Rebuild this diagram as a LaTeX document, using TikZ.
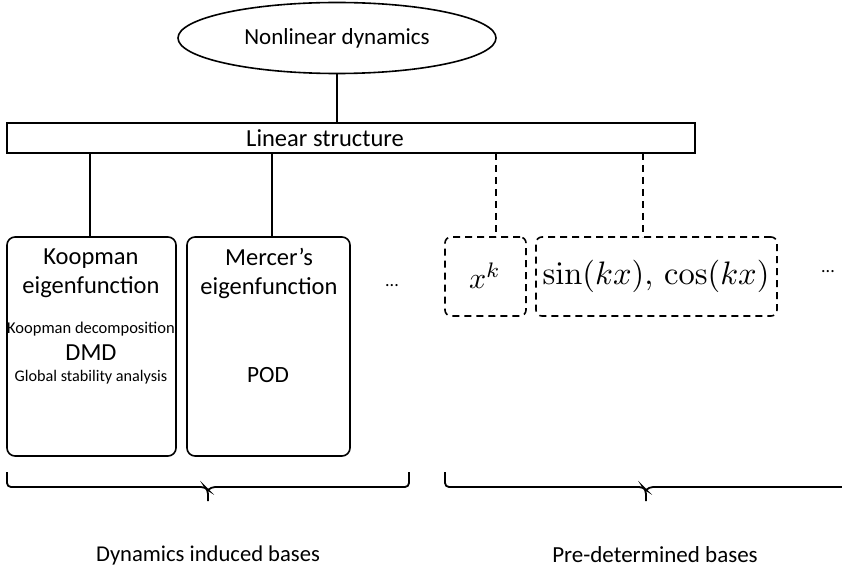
\documentclass[tikz,border=0pt]{standalone}
\usepackage[no-math]{fontspec}
\setmainfont{Carlito}
\usetikzlibrary{shapes.geometric}
\begin{document}
\begin{tikzpicture}[x=1pt,y=-1pt,
  every node/.style={inner sep=0pt,outer sep=0pt},
  ln/.style={line width=1.6pt},
  dsh/.style={line width=1.6pt,dash pattern=on 7pt off 5pt},
  rbox/.style={draw,line width=1.6pt,rounded corners=8pt,minimum width=#1,minimum height=219pt},
  dbox/.style={draw,line width=1.6pt,dash pattern=on 7pt off 5pt,rounded corners=6pt,minimum width=#1,minimum height=79pt},
  brc/.style={line width=1.8pt,rounded corners=4pt}]
\useasboundingbox (0,0) rectangle (842,569);
\node[draw,ellipse,line width=1.6pt,minimum width=318pt,minimum height=71pt,font=\fontsize{23}{27}\selectfont] (nd) at (337,38) {Nonlinear dynamics};
\node[draw,line width=1.6pt,minimum width=688pt,minimum height=30pt,anchor=north west] (ls) at (7,123) {};
\node[font=\fontsize{24.5}{28}\selectfont] at (325,138) {Linear structure};
\node[rbox=169pt,anchor=north west] (kb) at (7,237) {};
\node[rbox=163pt,anchor=north west] (mb) at (187,237) {};
\node[dbox=81pt,anchor=north west] (xb) at (445,237) {};
\node[dbox=241pt,anchor=north west] (sb) at (536,237) {};
\coordinate (c1) at (90,153);
\coordinate (c2) at (272,153);
\coordinate (c3) at (496,153);
\coordinate (c4) at (643,153);
\draw[ln] (nd.south) -- (ls.north -| nd.south);
\draw[ln] (c1) -- (c1 |- kb.north);
\draw[ln] (c2) -- (c2 |- mb.north);
\draw[dsh] (c3) -- (c3 |- xb.north);
\draw[dsh] (c4) -- (c4 |- sb.north);
% Koopman text
\node[font=\fontsize{24.5}{29}\selectfont,align=center] (kt) at (91,273) {Koopman\\eigenfunction};
\node[font=\fontsize{16.5}{18}\selectfont] (kd) at (91,329) {Koopman decomposition};
\node[font=\fontsize{24.5}{28}\selectfont] (dmd) at (91,353) {DMD};
\node[font=\fontsize{16.2}{18}\selectfont] (gs) at (91,377) {Global stability analysis};
% Mercer text
\node[font=\fontsize{24.5}{29}\selectfont,align=center] (mt) at (269,273) {Mercer’s\\eigenfunction};
\node[font=\fontsize{23.3}{27}\selectfont] (pod) at (268,375) {POD};
\node[font=\fontsize{18}{20}\selectfont] (d1) at (392,286) {...};
% dashed contents
\node[scale=3.0] (xk) at (485,276) {$x^k$};
\node[scale=3.25] (sc) at (656,276) {$\sin(kx),\,\cos(kx)$};
\node[font=\fontsize{18}{20}\selectfont] (d2) at (828,272) {...};
% braces
\draw[brc] (7,472) -- (7,487) -- (205,487) -- (208,490) -- (208,501);
\draw[brc] (409,472) -- (409,487) -- (211,487) -- (208,490);
\draw[brc] (445,472) -- (445,487) -- (643,487) -- (646,490) -- (646,501);
\draw[brc] (846,487) -- (649,487) -- (646,490);
\node[font=\fontsize{22.6}{26}\selectfont] (l1) at (208,555) {Dynamics induced bases};
\node[font=\fontsize{23}{27}\selectfont] (l2) at (655,555) {Pre-determined bases};
\end{tikzpicture}
\end{document}
